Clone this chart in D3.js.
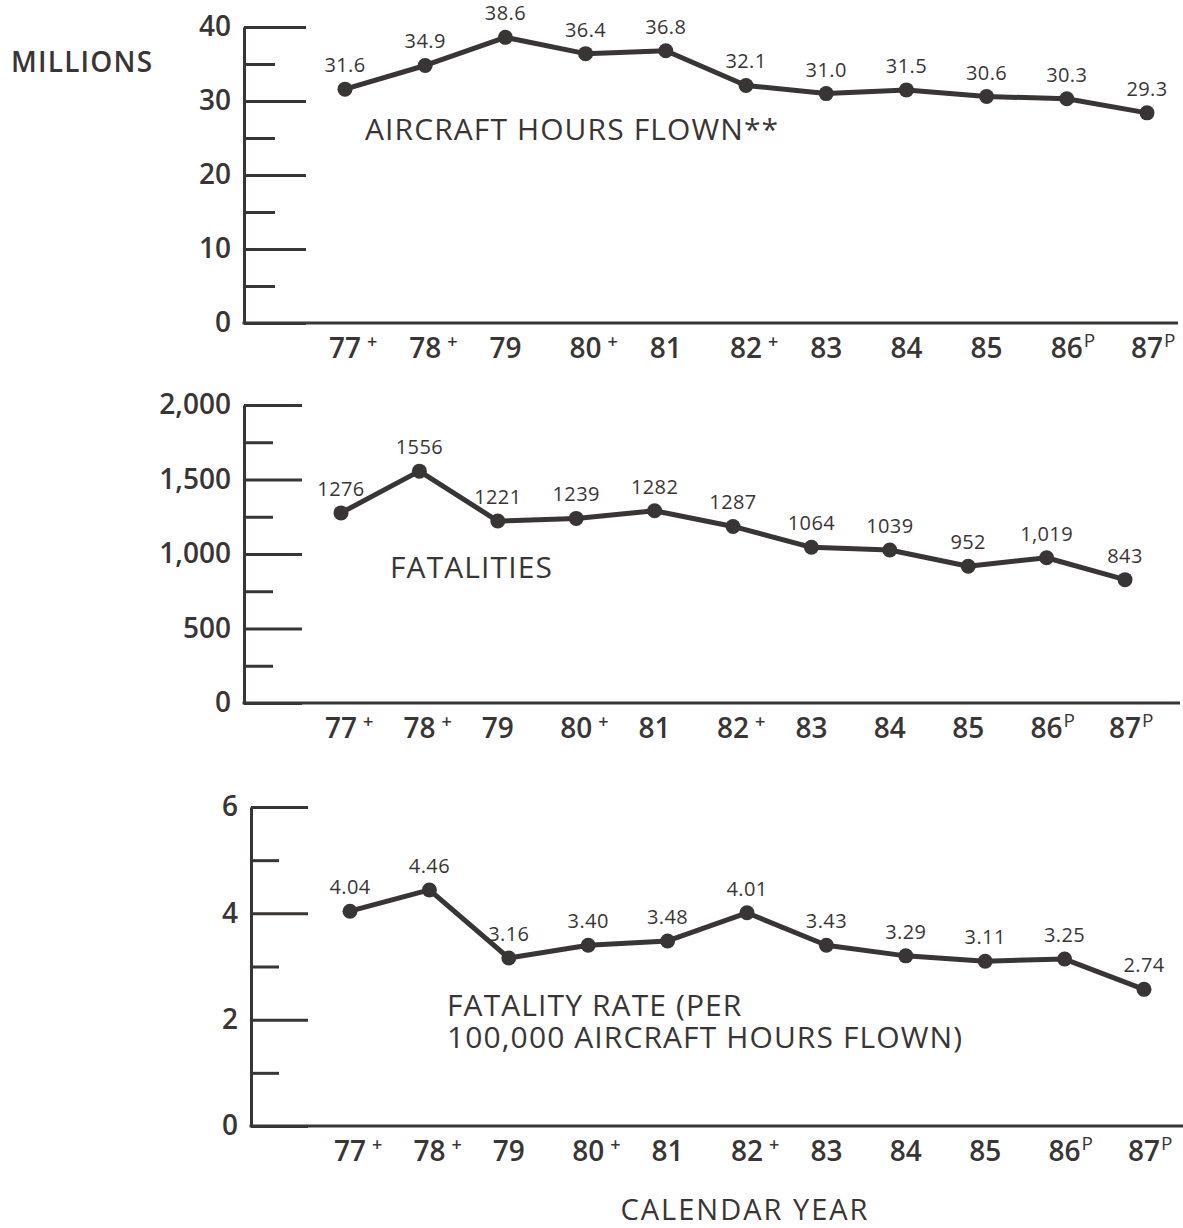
<!DOCTYPE html>
<html>
<title>General aviation hours, fatalities and fatality rate</title>
<meta charset="UTF-8">
<script type="text/javascript" src="https://d3js.org/d3.v7.min.js"></script>
<style type="text/css">
  body { margin:0; background:#fff; }
  svg text { font-family: 'Open Sans', 'Noto Sans', sans-serif; fill:#3a3535; }
</style>
<body>
<svg id="viz" width="1183" height="1228"></svg>
</body>
<script>
// data
var years = ["77", "78", "79", "80", "81", "82", "83", "84", "85", "86", "87"];
var yearMarks = ["+", "+", "", "+", "", "+", "", "", "", "P", "P"];

// plotted values (where the dots sit) and the printed labels
var hoursFlown = [31.6, 34.8, 38.6, 36.4, 36.8, 32.1, 31.0, 31.5, 30.6, 30.3, 28.4];
var hoursLabels = ["31.6", "34.9", "38.6", "36.4", "36.8", "32.1", "31.0", "31.5", "30.6", "30.3", "29.3"];

var fatalities = [1276, 1556, 1221, 1239, 1290, 1185, 1045, 1027, 918, 975, 828];
var fatalityLabels = ["1276", "1556", "1221", "1239", "1282", "1287", "1064", "1039", "952", "1,019", "843"];

var fatalityRate = [4.04, 4.44, 3.16, 3.40, 3.48, 4.01, 3.40, 3.20, 3.10, 3.14, 2.57];
var rateLabels = ["4.04", "4.46", "3.16", "3.40", "3.48", "4.01", "3.43", "3.29", "3.11", "3.25", "2.74"];

var hoursTicks = [0, 10, 20, 30, 40];
var fatalityTicks = [0, 500, 1000, 1500, 2000];
var rateTicks = [0, 2, 4, 6];

var ink = "#3a3535";
var svg = d3.select("#viz");

// layout of the three stacked panels
var panels = [
  { values: hoursFlown, labels: hoursLabels, ticks: hoursTicks, fmt: d3.format("d"),
    top: 27, bottom: 323, axisX: 244, x0: 345, x1: 1147, right: 1178, major: 62, minor: 31,
    title: ["AIRCRAFT HOURS FLOWN**"], titleX: 365, titleY: 140 },
  { values: fatalities, labels: fatalityLabels, ticks: fatalityTicks, fmt: d3.format(","),
    top: 405, bottom: 703, axisX: 244, x0: 341, x1: 1125, right: 1180, major: 58, minor: 29,
    title: ["FATALITIES"], titleX: 390, titleY: 578 },
  { values: fatalityRate, labels: rateLabels, ticks: rateTicks, fmt: d3.format("d"),
    top: 807, bottom: 1126, axisX: 251, x0: 350, x1: 1144, right: 1183, major: 57, minor: 28,
    title: ["FATALITY RATE (PER", "100,000 AIRCRAFT HOURS FLOWN)"], titleX: 447, titleY: 1016 }
];

panels.forEach(function(p) {
  var g = svg.append("g");
  var ticks = p.ticks;
  var step = ticks[1] - ticks[0];

  var x = d3.scalePoint().domain(years).range([p.x0, p.x1]);
  var y = d3.scaleLinear().domain([0, ticks[ticks.length - 1]]).range([p.bottom, p.top]);

  // minor ticks halfway between the labelled ones
  var minors = ticks.slice(1).map(function(t) { return t - step / 2; });
  g.append("g")
      .attr("transform", "translate(" + p.axisX + ",0)")
      .call(d3.axisLeft(y).tickValues(minors).tickSize(-p.minor).tickSizeOuter(0).tickFormat(""))
      .call(function(a) { a.select(".domain").remove(); });

  // labelled ticks + vertical axis
  var ya = g.append("g")
      .attr("transform", "translate(" + p.axisX + ",0)")
      .call(d3.axisLeft(y).tickValues(ticks).tickSize(-p.major).tickSizeOuter(0)
              .tickPadding(13).tickFormat(p.fmt));
  ya.selectAll("line, path").attr("stroke", ink).attr("stroke-width", 3);
  ya.selectAll("text").attr("font-size", 28).attr("font-weight", 600).attr("fill", ink)
      .attr("font-family", "'Open Sans', sans-serif");
  g.selectAll("line").attr("stroke", ink).attr("stroke-width", 3);

  // baseline
  g.append("line")
      .attr("x1", p.axisX - 1.5).attr("x2", p.right)
      .attr("y1", y(0)).attr("y2", y(0))
      .attr("stroke", ink).attr("stroke-width", 3);

  // year labels with their superscripts
  var yl = g.selectAll(".year").data(years).enter().append("g").attr("class", "year");
  yl.append("text")
      .attr("x", function(d) { return x(d); })
      .attr("y", y(0) + 35)
      .attr("text-anchor", "middle")
      .attr("font-size", 28).attr("font-weight", 600)
      .text(function(d) { return d; })
    .each(function(d, i) {
      if (!yearMarks[i]) return;
      var w = this.getComputedTextLength();
      var plus = yearMarks[i] === "+";
      d3.select(this.parentNode).append("text")
          .attr("x", x(d) + w / 2 + (plus ? 6 : 1))
          .attr("y", y(0) + 35 - (plus ? 10 : 11))
          .attr("font-size", plus ? 18 : 19)
          .attr("font-weight", plus ? 600 : 400)
          .text(yearMarks[i]);
    });

  // the line and its dots
  var line = d3.line()
      .x(function(d, i) { return x(years[i]); })
      .y(function(d) { return y(d); });

  g.append("path")
      .datum(p.values)
      .attr("d", line)
      .attr("fill", "none")
      .attr("stroke", ink)
      .attr("stroke-width", 5)
      .attr("stroke-linejoin", "round");

  g.selectAll(".dot").data(p.values).enter().append("circle")
      .attr("class", "dot")
      .attr("cx", function(d, i) { return x(years[i]); })
      .attr("cy", function(d) { return y(d); })
      .attr("r", 7.5)
      .attr("fill", ink);

  g.selectAll(".val").data(p.values).enter().append("text")
      .attr("class", "val")
      .attr("x", function(d, i) { return x(years[i]); })
      .attr("y", function(d) { return y(d) - 17; })
      .attr("text-anchor", "middle")
      .attr("font-size", 20)
      .attr("letter-spacing", 0.4)
      .text(function(d, i) { return p.labels[i]; });

  // series name (one text, one tspan per line)
  var tt = g.append("text")
      .attr("x", p.titleX)
      .attr("y", p.titleY)
      .attr("font-size", 30)
      .attr("letter-spacing", 1.1);
  p.title.forEach(function(t, i) {
    tt.append("tspan")
        .attr("x", p.titleX)
        .attr("dy", i ? 32 : 0)
        .text(t);
  });
});

svg.append("text")
    .attr("x", 11).attr("y", 72)
    .attr("font-size", 28)
    .attr("font-weight", 600)
    .attr("letter-spacing", 1.2)
    .text("MILLIONS");

svg.append("text")
    .attr("x", 745).attr("y", 1220)
    .attr("text-anchor", "middle")
    .attr("font-size", 29)
    .attr("letter-spacing", 2)
    .text("CALENDAR YEAR");
</script>
</html>
